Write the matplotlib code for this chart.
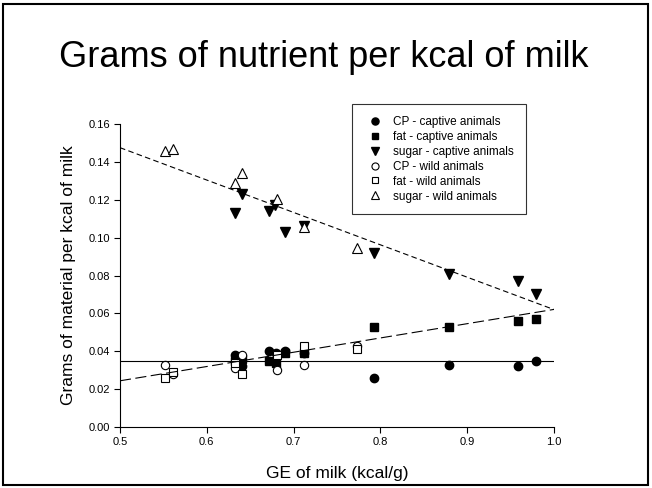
import numpy as np
import matplotlib.pyplot as plt
from matplotlib.patches import Rectangle

plt.rcParams['font.family'] = ['Liberation Sans', 'DejaVu Sans']

# captive animals
cp_cap_x = [0.633, 0.635, 0.641, 0.672, 0.680, 0.690, 0.712, 0.793, 0.879, 0.959, 0.979]
cp_cap_y = [0.038, 0.0365, 0.032, 0.040, 0.039, 0.040, 0.039, 0.026, 0.033, 0.032, 0.035]
fat_cap_x = [0.633, 0.641, 0.672, 0.680, 0.690, 0.712, 0.793, 0.879, 0.959, 0.979]
fat_cap_y = [0.035, 0.036, 0.035, 0.034, 0.039, 0.039, 0.053, 0.053, 0.056, 0.057]
sug_cap_x = [0.633, 0.640, 0.672, 0.678, 0.690, 0.712, 0.793, 0.879, 0.959, 0.979]
sug_cap_y = [0.113, 0.123, 0.114, 0.117, 0.103, 0.106, 0.092, 0.081, 0.077, 0.070]

# wild animals
wild_x = [0.552, 0.561, 0.633, 0.641, 0.681, 0.712, 0.773]
cp_wild_y = [0.033, 0.028, 0.031, 0.038, 0.030, 0.033, 0.043]
fat_wild_y = [0.026, 0.029, 0.0336, 0.028, 0.038, 0.043, 0.041]
sug_wild_y = [0.1457, 0.1466, 0.1287, 0.134, 0.1206, 0.1058, 0.0947]

# regression lines (slope, intercept)
sug_fit = (-0.171, 0.233)
fat_fit = (0.0754, -0.0133)
cp_fit = (0.0, 0.035)

fig = plt.figure(figsize=(6.52, 4.88), dpi=100)
ax = fig.add_axes([120/652, 1-427/488, 434/652, 303/488])

ms = 6
ax.plot(cp_cap_x, cp_cap_y, 'o', color='k', ms=ms, label='CP - captive animals')
ax.plot(fat_cap_x, fat_cap_y, 's', color='k', ms=ms-0.5, label='fat - captive animals')
ax.plot(sug_cap_x, sug_cap_y, 'v', color='k', ms=ms+1, label='sugar - captive animals')
ax.plot(wild_x, cp_wild_y, 'o', mfc='white', mec='k', mew=0.8, ms=ms, label='CP - wild animals')
ax.plot(wild_x, fat_wild_y, 's', mfc='white', mec='k', mew=0.8, ms=ms-0.5, label='fat - wild animals')
ax.plot(wild_x, sug_wild_y, '^', mfc='white', mec='k', mew=0.8, ms=ms+1, label='sugar - wild animals')

xs = np.array([0.5, 1.0])
ax.plot(xs, sug_fit[0]*xs + sug_fit[1], color='k', lw=0.8, dashes=(5, 3))
ax.plot(xs, fat_fit[0]*xs + fat_fit[1], color='k', lw=0.8, dashes=(10, 4))
ax.plot(xs, cp_fit[0]*xs + cp_fit[1], color='k', lw=0.8)

ax.set_xlim(0.5, 1.0)
ax.set_ylim(0, 0.16)
ax.set_xticks(np.arange(0.5, 1.01, 0.1))
ax.set_yticks(np.arange(0, 0.161, 0.02))
ax.xaxis.set_major_formatter(plt.FormatStrFormatter('%.1f'))
ax.yaxis.set_major_formatter(plt.FormatStrFormatter('%.2f'))
ax.tick_params(direction='out', length=4, width=0.8, labelsize=8, pad=3)
ax.spines['top'].set_visible(False)
ax.spines['right'].set_visible(False)
ax.spines['left'].set_linewidth(0.8)
ax.spines['bottom'].set_linewidth(0.8)
ax.set_xlabel('GE of milk (kcal/g)', fontsize=12.5, labelpad=14)
ax.set_ylabel('Grams of material per kcal of milk', fontsize=12.5, labelpad=9)

leg = fig.legend(loc='upper left', bbox_to_anchor=(352/652, 1-104/488),
                 bbox_transform=fig.transFigure, fontsize=8.5, frameon=True,
                 fancybox=False, edgecolor='k', borderpad=1.0, handlelength=1.9,
                 handletextpad=0.6, labelspacing=0.25, borderaxespad=0,
                 markerscale=0.85)
leg.get_frame().set_linewidth(0.8)

fig.text(59/652, 1-66.7/488, 'Grams of nutrient per kcal of milk', fontsize=26,
         ha='left', va='baseline')

fig.patches.append(Rectangle((3/652, 3/488), 645/652, 481/488, transform=fig.transFigure,
                             fill=False, edgecolor='k', lw=1.5))

fig.savefig('out.png', dpi=100)
